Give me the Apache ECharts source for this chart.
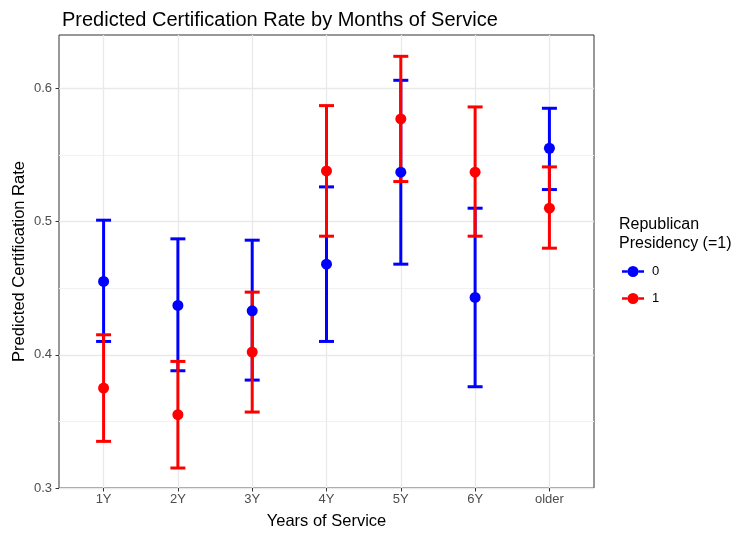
<!DOCTYPE html>
<html>
<head>
<meta charset="utf-8">
<script src="https://cdn.jsdelivr.net/npm/echarts@6/dist/echarts.min.js"></script>
<style>
  html, body { margin: 0; padding: 0; background: #fff; }
  #chart { width: 739px; height: 533px; }
</style>
</head>
<body>
<div id="chart"></div>
<script>
// Service-length categories and predicted certification rates with 95% intervals
const categories = ['1Y', '2Y', '3Y', '4Y', '5Y', '6Y', 'older'];

// Republican presidency = 0
const est0  = [0.455, 0.437, 0.433, 0.468, 0.537, 0.443, 0.555];
const low0  = [0.410, 0.388, 0.381, 0.410, 0.468, 0.376, 0.524];
const high0 = [0.501, 0.487, 0.486, 0.526, 0.606, 0.510, 0.585];

// Republican presidency = 1
const est1  = [0.375, 0.355, 0.402, 0.538, 0.577, 0.537, 0.510];
const low1  = [0.335, 0.315, 0.357, 0.489, 0.530, 0.489, 0.480];
const high1 = [0.415, 0.395, 0.447, 0.587, 0.624, 0.586, 0.541];

const yTicks = [0.3, 0.4, 0.5, 0.6];

const BLUE = '#0000FF';
const RED = '#FF0000';
const FONT = '"Liberation Sans", Arial, Helvetica, sans-serif';

const positions = categories.map((_, i) => i + 1);

function barRows(low, high) {
  return positions.map((x, i) => [x, low[i], high[i]]);
}
function pointRows(est) {
  return positions.map((x, i) => [x, est[i]]);
}

// Error bar: vertical whisker with horizontal caps at both ends
function errorBar(color) {
  return function (params, api) {
    const x = api.value(0);
    const top = api.coord([x, api.value(2)]);
    const bot = api.coord([x, api.value(1)]);
    const hw = 7.5;
    const style = { stroke: color, lineWidth: 3, fill: null };
    return {
      type: 'group',
      children: [
        { type: 'line', shape: { x1: top[0], y1: top[1], x2: bot[0], y2: bot[1] }, style },
        { type: 'line', shape: { x1: top[0] - hw, y1: top[1], x2: top[0] + hw, y2: top[1] }, style },
        { type: 'line', shape: { x1: bot[0] - hw, y1: bot[1], x2: bot[0] + hw, y2: bot[1] }, style }
      ]
    };
  };
}

// Legend key: horizontal line with a dot in the middle
const keyIcon = 'path://M0,4.2 L5.5,4.2 L5.5,6.8 L0,6.8 Z M16.5,4.2 L22,4.2 L22,6.8 L16.5,6.8 Z M16.5,5.5 A5.5,5.5 0 1 1 5.5,5.5 A5.5,5.5 0 1 1 16.5,5.5 Z';

const chart = echarts.init(document.getElementById('chart'), null, { renderer: 'canvas' });

chart.setOption({
  animation: false,
  backgroundColor: '#ffffff',
  title: [
    {
      text: 'Predicted Certification Rate by Months of Service',
      left: 57, top: 5,
      textStyle: { fontFamily: FONT, fontSize: 20, fontWeight: 'normal', color: '#000' }
    },
    {
      text: 'Republican\nPresidency (=1)',
      left: 614, top: 210,
      textStyle: { fontFamily: FONT, fontSize: 16, fontWeight: 'normal', color: '#000', lineHeight: 19 }
    }
  ],
  legend: {
    data: ['0', '1'],
    orient: 'vertical',
    left: 622, top: 265,
    padding: 0,
    icon: keyIcon,
    itemWidth: 22, itemHeight: 11,
    itemGap: 14,
    selectedMode: false,
    textStyle: { fontFamily: FONT, fontSize: 13, color: '#000', padding: [0, 0, 0, 3] }
  },
  grid: {
    left: 59, right: 145, top: 35, bottom: 45,
    outerBoundsMode: 'none',
    containLabel: false,
    show: true, borderColor: '#333333', borderWidth: 1, backgroundColor: '#fff'
  },
  xAxis: {
    type: 'value',
    min: 0.4, max: 7.6,
    name: 'Years of Service',
    nameLocation: 'middle',
    nameGap: 25,
    nameMoveOverlap: false,
    nameTextStyle: { fontFamily: FONT, fontSize: 16.5, color: '#000' },
    axisLine: { show: false },
    axisTick: { show: true, length: 3.5, customValues: positions, lineStyle: { color: '#333333' } },
    axisLabel: {
      customValues: positions,
      margin: 5,
      fontFamily: FONT, fontSize: 13, color: '#4d4d4d',
      formatter: v => categories[Math.round(v) - 1] || ''
    },
    splitLine: { show: true, customValues: positions, lineStyle: { color: '#e9e9e9', width: 1.3 } }
  },
  yAxis: {
    type: 'value',
    min: 0.3, max: 0.64,
    interval: 0.1,
    name: 'Predicted Certification Rate',
    nameLocation: 'middle',
    nameGap: 31,
    nameMoveOverlap: false,
    nameTextStyle: { fontFamily: FONT, fontSize: 16.5, color: '#000' },
    axisLine: { show: false },
    axisTick: { show: true, length: 3.5, customValues: yTicks, lineStyle: { color: '#333333' } },
    axisLabel: {
      customValues: yTicks,
      margin: 7,
      fontFamily: FONT, fontSize: 13, color: '#4d4d4d',
      formatter: v => v.toFixed(1)
    },
    splitLine: { show: true, lineStyle: { color: '#e9e9e9', width: 1.3 } },
    minorTick: { show: false, splitNumber: 2 },
    minorSplitLine: { show: true, lineStyle: { color: '#f1f1f1', width: 1 } }
  },
  series: [
    {
      name: '0', type: 'custom', renderItem: errorBar(BLUE),
      data: barRows(low0, high0), encode: { x: 0, y: [1, 2] },
      itemStyle: { color: BLUE }, z: 2
    },
    {
      name: '0', type: 'scatter', data: pointRows(est0),
      symbol: 'circle', symbolSize: 11, itemStyle: { color: BLUE, opacity: 1 }, z: 2
    },
    {
      name: '1', type: 'custom', renderItem: errorBar(RED),
      data: barRows(low1, high1), encode: { x: 0, y: [1, 2] },
      itemStyle: { color: RED }, z: 2
    },
    {
      name: '1', type: 'scatter', data: pointRows(est1),
      symbol: 'circle', symbolSize: 11, itemStyle: { color: RED, opacity: 1 }, z: 2
    }
  ]
});
</script>
</body>
</html>
